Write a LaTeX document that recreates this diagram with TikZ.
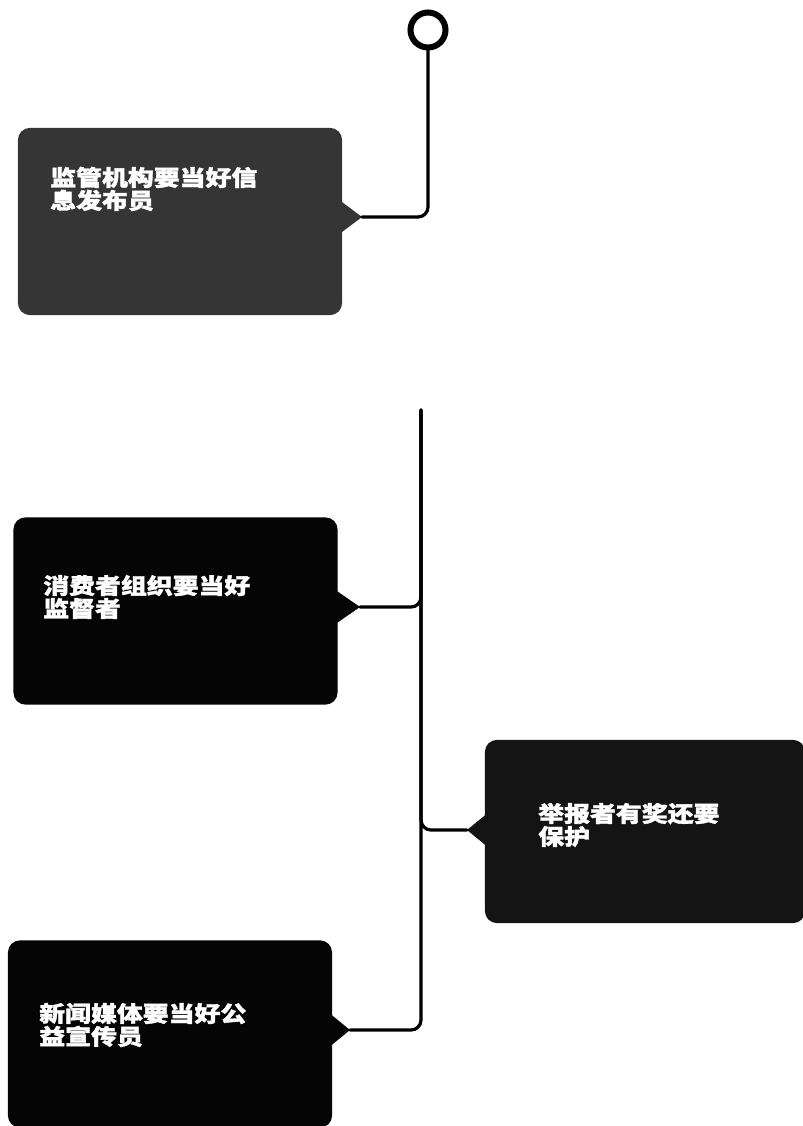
\documentclass[tikz,border=0pt]{standalone}
\usepackage{fontspec}
\usepackage{xcolor}
\usepackage{tikz}
\usetikzlibrary{positioning,calc}
\newfontfamily\cjk[FakeStretch=1.18,FakeBold=1.6]{Noto Sans CJK SC}
\definecolor{cardGray}{HTML}{353535}
\definecolor{cardDark}{HTML}{141414}
\definecolor{cardBlack}{HTML}{050505}

\begin{document}
\begin{tikzpicture}[x=0.025cm, y=-0.025cm,
    card/.style={fill=#1, rounded corners=3mm, minimum width=8.1cm, minimum height=4.68cm, inner sep=0pt},
    cardtext/.style={text=white, align=left, inner sep=0pt, anchor=west, font=\cjk\bfseries\fontsize{15.6}{16.3}\selectfont},
    wire/.style={line width=2.3pt, line cap=round, rounded corners=2.5mm}]
    \useasboundingbox (0,0) rectangle (803,1126);
    \clip (0,0) rectangle (803,1126);

    \node[draw, circle, line width=4.3pt, minimum size=0.875cm, inner sep=0pt] (ring) at (428,30) {};

    \node[card=cardGray] (b1) at (180,221.5) {};
    \node[card=cardBlack] (b2) at (175.5,611) {};
    \node[card=cardDark, minimum width=8cm, minimum height=4.58cm] (b3) at (645,831.5) {};
    \node[card=cardBlack] (b4) at (170,1034) {};

    \node[cardtext] (t1) at (50,189) {监管机构要当好信\\息发布员};
    \node[cardtext] (t2) at (43,597) {消费者组织要当好\\监督者};
    \node[cardtext] (t3) at (538,825) {举报者有奖还要\\保护};
    \node[cardtext] (t4) at (39,1025) {新闻媒体要当好公\\益宣传员};

    % pointer tips
    \coordinate (p1) at (362,217);
    \coordinate (p2) at (360,607);
    \coordinate (p3) at (467,830);
    \coordinate (p4) at (350,1030);
    \fill[cardGray] ($(p1)+(-24,-18)$) -- (p1) -- ($(p1)+(-24,18)$) -- cycle;
    \fill[cardBlack] ($(p2)+(-26,-18)$) -- (p2) -- ($(p2)+(-26,18)$) -- cycle;
    \fill[cardDark] ($(p3)+(22,-18)$) -- (p3) -- ($(p3)+(22,18)$) -- cycle;
    \fill[cardBlack] ($(p4)+(-22,-18)$) -- (p4) -- ($(p4)+(-22,18)$) -- cycle;

    \coordinate (trunk) at (421,410);
    \draw[wire] (ring.south) |- (p1);
    \draw[wire] (trunk) |- (p2);
    \draw[wire] (trunk) |- (p3);
    \draw[wire] (trunk) |- (p4);
\end{tikzpicture}
\end{document}
